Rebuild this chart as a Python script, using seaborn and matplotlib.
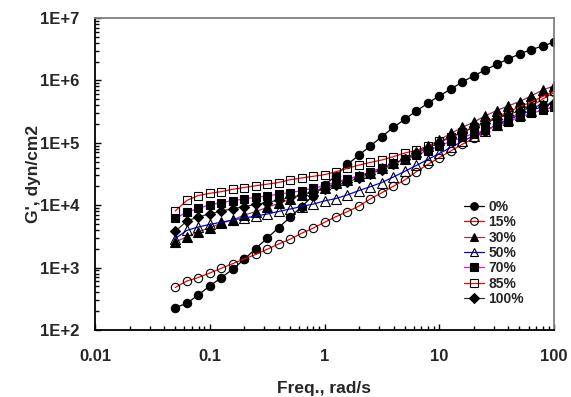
import matplotlib
matplotlib.use("Agg")
import matplotlib.pyplot as plt
import seaborn as sns
import pandas as pd
from matplotlib.ticker import FixedLocator, FixedFormatter, LogLocator, NullFormatter

freq = [0.05, 0.0631, 0.0794, 0.1, 0.126, 0.158, 0.2, 0.251, 0.316, 0.398,
        0.501, 0.631, 0.794, 1.0, 1.26, 1.58, 2.0, 2.51, 3.16, 3.98,
        5.01, 6.31, 7.94, 10.0, 12.6, 15.8, 20.0, 25.1, 31.6, 39.8,
        50.1, 63.1, 79.4, 100.0]

g_0 = [228, 268, 364, 507, 689, 939, 1358, 2010, 2951, 4365,
       6400, 9460, 14200, 21100, 29700, 44900, 63700, 88900, 126000, 176000,
       239000, 323000, 430000, 566000, 722000, 942000, 1180000, 1470000, 1810000, 2200000,
       2650000, 3100000, 3560000, 4080000]
g_15 = [480, 609, 693, 818, 975, 1155, 1375, 1622, 1965, 2388,
        2843, 3548, 4266, 5321, 6546, 7870, 9710, 12600, 15850, 20100,
        25400, 34400, 44900, 58000, 74000, 94000, 119000, 152000, 193000, 240000,
        302000, 385000, 500000, 640000]
g_30 = [2570, 3126, 3720, 4360, 5130, 5800, 6970, 7870, 9250, 10700,
        12400, 14600, 16600, 18900, 22300, 25800, 29400, 33400, 39500, 46600,
        56000, 70000, 87300, 111000, 141000, 176000, 215000, 269000, 329000, 389000,
        459000, 562000, 702000, 813000]
g_50 = [2920, 3940, 4480, 4910, 5330, 5800, 6240, 6670, 7230, 7930,
        8690, 9530, 10400, 11700, 12800, 14600, 17200, 19800, 23100, 28300,
        34900, 43300, 53900, 67400, 84100, 105000, 129000, 157000, 193000, 232000,
        279000, 329000, 382000, 434000]
g_70 = [6170, 7690, 8910, 10100, 11000, 11800, 12600, 13400, 14000, 15100,
        15900, 17100, 18700, 20500, 23500, 26500, 29500, 34500, 39500, 46800,
        54500, 63000, 75000, 89000, 105000, 122000, 140000, 160000, 186000, 219000,
        259000, 295000, 335000, 375000]
g_85 = [8070, 11900, 14300, 15500, 16500, 18000, 19200, 20500, 21700, 23100,
        25600, 27300, 29000, 30900, 34400, 39000, 44000, 48500, 53000, 59900,
        68700, 75300, 89000, 105000, 124000, 149000, 179000, 215000, 259000, 312000,
        375000, 451000, 550000, 670000]
g_100 = [3790, 5580, 6470, 7280, 8010, 8790, 9530, 10300, 11000, 12100,
         13300, 14600, 16300, 18200, 20700, 23600, 27300, 31600, 37300, 44900,
         55000, 67400, 82600, 101000, 122000, 146000, 176000, 208000, 245000, 284000,
         324000, 368000, 404000, 434000]

labels = ["0%", "15%", "30%", "50%", "70%", "85%", "100%"]
series = [g_0, g_15, g_30, g_50, g_70, g_85, g_100]

xticks = [0.01, 0.1, 1, 10, 100]
xticklabels = ["0.01", "0.1", "1", "10", "100"]
yticks = [1e2, 1e3, 1e4, 1e5, 1e6, 1e7]
yticklabels = ["1E+2", "1E+3", "1E+4", "1E+5", "1E+6", "1E+7"]

styles = {
    "0%":   dict(color="black",   marker="o", mfc="black", ms=6.0),
    "15%":  dict(color="#FF0000", marker="o", mfc="none",  ms=6.0),
    "30%":  dict(color="#993366", marker="^", mfc="black", ms=6.5),
    "50%":  dict(color="#0000FF", marker="^", mfc="none",  ms=6.5),
    "70%":  dict(color="#FF00FF", marker="s", mfc="black", ms=5.5),
    "85%":  dict(color="#FF0000", marker="s", mfc="none",  ms=5.5),
    "100%": dict(color="#333333", marker="D", mfc="black", ms=5.0),
}

sns.set_style("white")
plt.rcParams["font.family"] = ["Liberation Sans", "DejaVu Sans"]
plt.rcParams["font.weight"] = "bold"
plt.rcParams["axes.labelweight"] = "bold"

fig = plt.figure(figsize=(5.71, 3.97), dpi=100)
ax = fig.add_axes([95 / 571, 1 - 330 / 397, (554 - 95) / 571, (330 - 18) / 397])

for lab, vals in zip(labels, series):
    st = styles[lab]
    df = pd.DataFrame({"freq": freq, "G": vals})
    sns.lineplot(data=df, x="freq", y="G", ax=ax, color=st["color"],
                 marker=st["marker"], markerfacecolor=st["mfc"],
                 markeredgecolor="black", markeredgewidth=0.8,
                 markersize=st["ms"], linewidth=0.9, label=lab)

ax.set_xscale("log")
ax.set_yscale("log")
ax.set_xlim(0.01, 100)
ax.set_ylim(1e2, 1e7)

ax.xaxis.set_major_locator(FixedLocator(xticks))
ax.xaxis.set_major_formatter(FixedFormatter(xticklabels))
ax.yaxis.set_major_locator(FixedLocator(yticks))
ax.yaxis.set_major_formatter(FixedFormatter(yticklabels))
ax.xaxis.set_minor_locator(LogLocator(base=10, subs=range(2, 10), numticks=20))
ax.yaxis.set_minor_locator(LogLocator(base=10, subs=range(2, 10), numticks=20))
ax.xaxis.set_minor_formatter(NullFormatter())
ax.yaxis.set_minor_formatter(NullFormatter())

ax.tick_params(which="both", direction="in", top=False, right=False,
               bottom=True, left=True, color="black", labelsize=12)
ax.tick_params(axis="x", which="major", pad=14)
ax.tick_params(axis="y", which="major", pad=11)
ax.tick_params(which="major", length=4, width=1)
ax.tick_params(which="minor", length=3, width=1)
for t in ax.get_xticklabels() + ax.get_yticklabels():
    t.set_fontweight("bold")

for side in ["left", "bottom"]:
    ax.spines[side].set_color("black")
    ax.spines[side].set_linewidth(1.3)
for side in ["top", "right"]:
    ax.spines[side].set_color("#808080")
    ax.spines[side].set_linewidth(1.3)

ax.set_xlabel("Freq., rad/s", fontsize=12.5, fontweight="bold")
ax.set_ylabel("G', dyn/cm2", fontsize=12.5, fontweight="bold")
ax.xaxis.set_label_coords(0.499, -0.165)
ax.yaxis.set_label_coords(-0.118, 0.5)
ax.grid(False)

leg = ax.legend(loc="center right", bbox_to_anchor=(0.935, 0.247), frameon=False,
                prop={"weight": "bold", "size": 10}, handlelength=1.5,
                handletextpad=0.3, labelspacing=0.1, borderaxespad=0, borderpad=0)
for h in leg.legend_handles:
    h.set_markersize(5.5)

fig.savefig("out.png", dpi=100)
